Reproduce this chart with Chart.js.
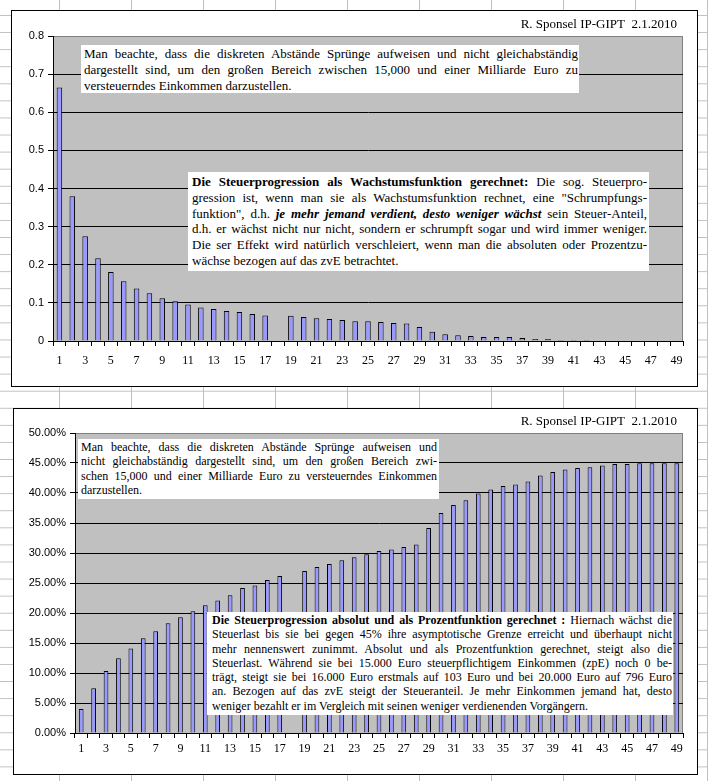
<!DOCTYPE html>
<html>
<head>
<meta charset="utf-8">
<script src="https://cdn.jsdelivr.net/npm/chart.js@4"></script>
<style>
  body {
    margin: 0; width: 708px; height: 781px; overflow: hidden; position: relative;
    background-color: #fff;
    background-image: linear-gradient(to right, #c0c0c0 1px, transparent 1px),
                      linear-gradient(to bottom, #c0c0c0 1px, transparent 1px);
    background-size: 72px 100%, 100% 17.08px;
    background-position: 59px 0, 0 15px;
  }
  .frame { position: absolute; box-sizing: border-box; border: 1px solid #000; background: #fff; }
  canvas { position: absolute; }
  .stamp { position: absolute; width: 200px; text-align: right; font: 13px 'Liberation Serif', serif; line-height: 16px; color: #000; }
  .note { position: absolute; box-sizing: border-box; background: #fff; font-family: 'Liberation Serif', serif; color: #000; }
  .note div { white-space: nowrap; overflow: visible; }
  .big { font-size: 13px; line-height: 15.8px; }
  .small { font-size: 12px; line-height: 14.3px; }
</style>
</head>
<body>
<div class="frame" style="left:11px; top:10px; width:687px; height:377px;"></div>
<canvas id="topChart" width="685" height="375" style="left:12px; top:11px;"></canvas>
<div class="frame" style="left:13px; top:408px; width:685px; height:367px;"></div>
<canvas id="bottomChart" width="683" height="365" style="left:14px; top:409px;"></canvas>

<div class="stamp" style="left:477px; top:16px;">R. Sponsel IP-GIPT&nbsp; 2.1.2010</div>
<div class="stamp" style="left:477px; top:413px;">R. Sponsel IP-GIPT&nbsp; 2.1.2010</div>

<div class="note big" style="left:81px; top:45px; width:498px; height:48px; padding:1px 1px 0 3px;">
  <div class="j">Man beachte, dass die diskreten Abstände Sprünge aufweisen und nicht gleichabständig</div>
  <div class="j">dargestellt sind, um den großen Bereich zwischen 15,000 und einer Milliarde Euro zu</div>
  <div>versteuerndes Einkommen darzustellen.</div>
</div>

<div class="note big" style="left:188px; top:172px; width:461px; height:99px; padding:2px 2px 0 4px;">
  <div class="j"><b>Die Steuerprogression als Wachstumsfunktion gerechnet:</b> Die sog. Steuerpro-</div>
  <div class="j">gression ist, wenn man sie als Wachstumsfunktion rechnet, eine "Schrumpfungs-</div>
  <div class="j">funktion", d.h. <b><i>je mehr jemand verdient, desto weniger wächst</i></b> sein Steuer-Anteil,</div>
  <div class="j">d.h. er wächst nicht nur nicht, sondern er schrumpft sogar und wird immer weniger.</div>
  <div class="j">Die ser Effekt wird natürlich verschleiert, wenn man die absoluten oder Prozentzu-</div>
  <div>wächse bezogen auf das zvE betrachtet.</div>
</div>

<div class="note small" style="left:78px; top:439px; width:361px; height:60px; padding:1px 2px 0 3px;">
  <div class="j">Man beachte, dass die diskreten Abstände Sprünge aufweisen und</div>
  <div class="j">nicht gleichabständig dargestellt sind, um den großen Bereich zwi-</div>
  <div class="j">schen 15,000 und einer Milliarde Euro zu versteuerndes Einkommen</div>
  <div>darzustellen.</div>
</div>

<div class="note small" style="left:207px; top:612px; width:466px; height:103px; padding:1px 1px 0 5px;">
  <div class="j"><b>Die Steuerprogression absolut und als Prozentfunktion gerechnet :</b> Hiernach wächst die</div>
  <div class="j">Steuerlast bis sie bei gegen 45% ihre asymptotische Grenze erreicht und überhaupt nicht</div>
  <div class="j">mehr nennenswert zunimmt. Absolut und als Prozentfunktion gerechnet, steigt also die</div>
  <div class="j">Steuerlast. Während sie bei 15.000 Euro steuerpflichtigem Einkommen (zpE) noch 0 be-</div>
  <div class="j">trägt, steigt sie bei 16.000 Euro erstmals auf 103 Euro und bei 20.000 Euro auf 796 Euro</div>
  <div class="j">an. Bezogen auf das zvE steigt der Steueranteil. Je mehr Einkommen jemand hat, desto</div>
  <div>weniger bezahlt er im Vergleich mit seinen weniger verdienenden Vorgängern.</div>
</div>

<script>
// Kategorien 1..49
const categories = ['1','2','3','4','5','6','7','8','9','10','11','12','13','14','15','16','17','18','19','20',
  '21','22','23','24','25','26','27','28','29','30','31','32','33','34','35','36','37','38','39','40',
  '41','42','43','44','45','46','47','48','49'];

// oben: Wachstum des Steueranteils
const growthShare = [0.665, 0.380, 0.275, 0.217, 0.181, 0.157, 0.138, 0.125, 0.112, 0.104,
  0.096, 0.088, 0.084, 0.079, 0.076, 0.071, 0.067, null, 0.066, 0.063,
  0.060, 0.058, 0.055, 0.052, 0.052, 0.050, 0.047, 0.046, 0.037, 0.024,
  0.0175, 0.015, 0.013, 0.0105, 0.0105, 0.0105, 0.008, 0.005, 0.005, 0.0026,
  0.0026, 0.0026, 0, 0, 0, 0, 0, 0, 0];
const topTicks = ['0', '0.1', '0.2', '0.3', '0.4', '0.5', '0.6', '0.7', '0.8'];

// unten: Steueranteil in Prozent
const taxPercent = [4.0, 7.45, 10.33, 12.45, 14.1, 15.8, 16.95, 18.3, 19.3, 20.3,
  21.3, 22.1, 22.95, 24.17, 24.6, 25.5, 26.17, null, 27.0, 27.67,
  28.17, 28.8, 29.3, 29.8, 30.33, 30.6, 31.0, 31.4, 34.17, 36.67,
  38.0, 38.8, 39.9, 40.6, 41.17, 41.4, 41.9, 42.9, 43.5, 43.9,
  44.17, 44.3, 44.6, 44.83, 44.83, 44.95, 44.95, 44.95, 44.95];
const bottomTicks = ['0.00%', '5.00%', '10.00%', '15.00%', '20.00%', '25.00%',
  '30.00%', '35.00%', '40.00%', '45.00%', '50.00%'];

// grauer Plotbereich wie in Excel
const plotBg = {
  id: 'plotBg',
  beforeDraw(chart) {
    const { ctx, chartArea: a } = chart;
    ctx.save();
    ctx.fillStyle = '#c0c0c0';
    ctx.fillRect(a.left, a.top, a.width, a.height);
    ctx.strokeStyle = '#808080';
    ctx.lineWidth = 1;
    ctx.strokeRect(a.left + 0.5, a.top + 0.5, a.width - 1, a.height);
    ctx.restore();
  }
};

const makeChart = (id, values, yMax, yStep, yLabels, opts) => new Chart(document.getElementById(id), {
  type: 'bar',
  data: {
    labels: categories,
    datasets: [{
      data: values,
      backgroundColor: '#9999ff',
      borderColor: '#000',
      borderWidth: 1,
      barPercentage: opts.barPct,
      categoryPercentage: 1
    }]
  },
  options: {
    responsive: false,
    animation: false,
    layout: { padding: { top: opts.top, right: 14, left: 0, bottom: 0 } },
    plugins: { legend: { display: false }, tooltip: { enabled: false } },
    scales: {
      x: {
        grid: { drawOnChartArea: false, drawTicks: true, tickLength: 5, color: '#000', offset: true },
        border: { color: '#000', width: 1 },
        ticks: {
          autoSkip: false, maxRotation: 0, padding: opts.xPad, color: '#000',
          font: { family: 'Liberation Serif', size: 12 },
          callback: (v, i) => i % 2 === 0 ? categories[i] : ''
        },
        afterFit: s => { s.height = opts.xHeight; }
      },
      y: {
        min: 0, max: yMax,
        grid: {
          color: c => (c.tick && c.tick.value >= yMax - 1e-9) ? '#808080' : '#000',
          tickColor: '#000', tickLength: 5
        },
        border: { color: '#000', width: 1 },
        ticks: {
          stepSize: yStep, padding: 4, color: '#000',
          font: { family: 'Liberation Sans', size: 11 },
          callback: (v, i) => yLabels[i]
        },
        afterFit: s => { s.width = opts.yWidth; }
      }
    }
  },
  plugins: [plotBg]
});

makeChart('topChart', growthShare, 0.8, 0.1, topTicks,
  { barPct: 0.43, top: 25, xPad: 8, xHeight: 45, yWidth: 41 });
makeChart('bottomChart', taxPercent, 50, 5, bottomTicks,
  { barPct: 0.38, top: 24, xPad: 4, xHeight: 41, yWidth: 61 });

// Blocksatz pro Zeile
document.querySelectorAll('.note .j').forEach(el => {
  const r = document.createRange();
  r.selectNodeContents(el);
  const natural = r.getBoundingClientRect().width;
  const gaps = (el.textContent.trim().match(/ /g) || []).length;
  if (gaps) el.style.wordSpacing = ((el.clientWidth - natural) / gaps) + 'px';
});
</script>
</body>
</html>
